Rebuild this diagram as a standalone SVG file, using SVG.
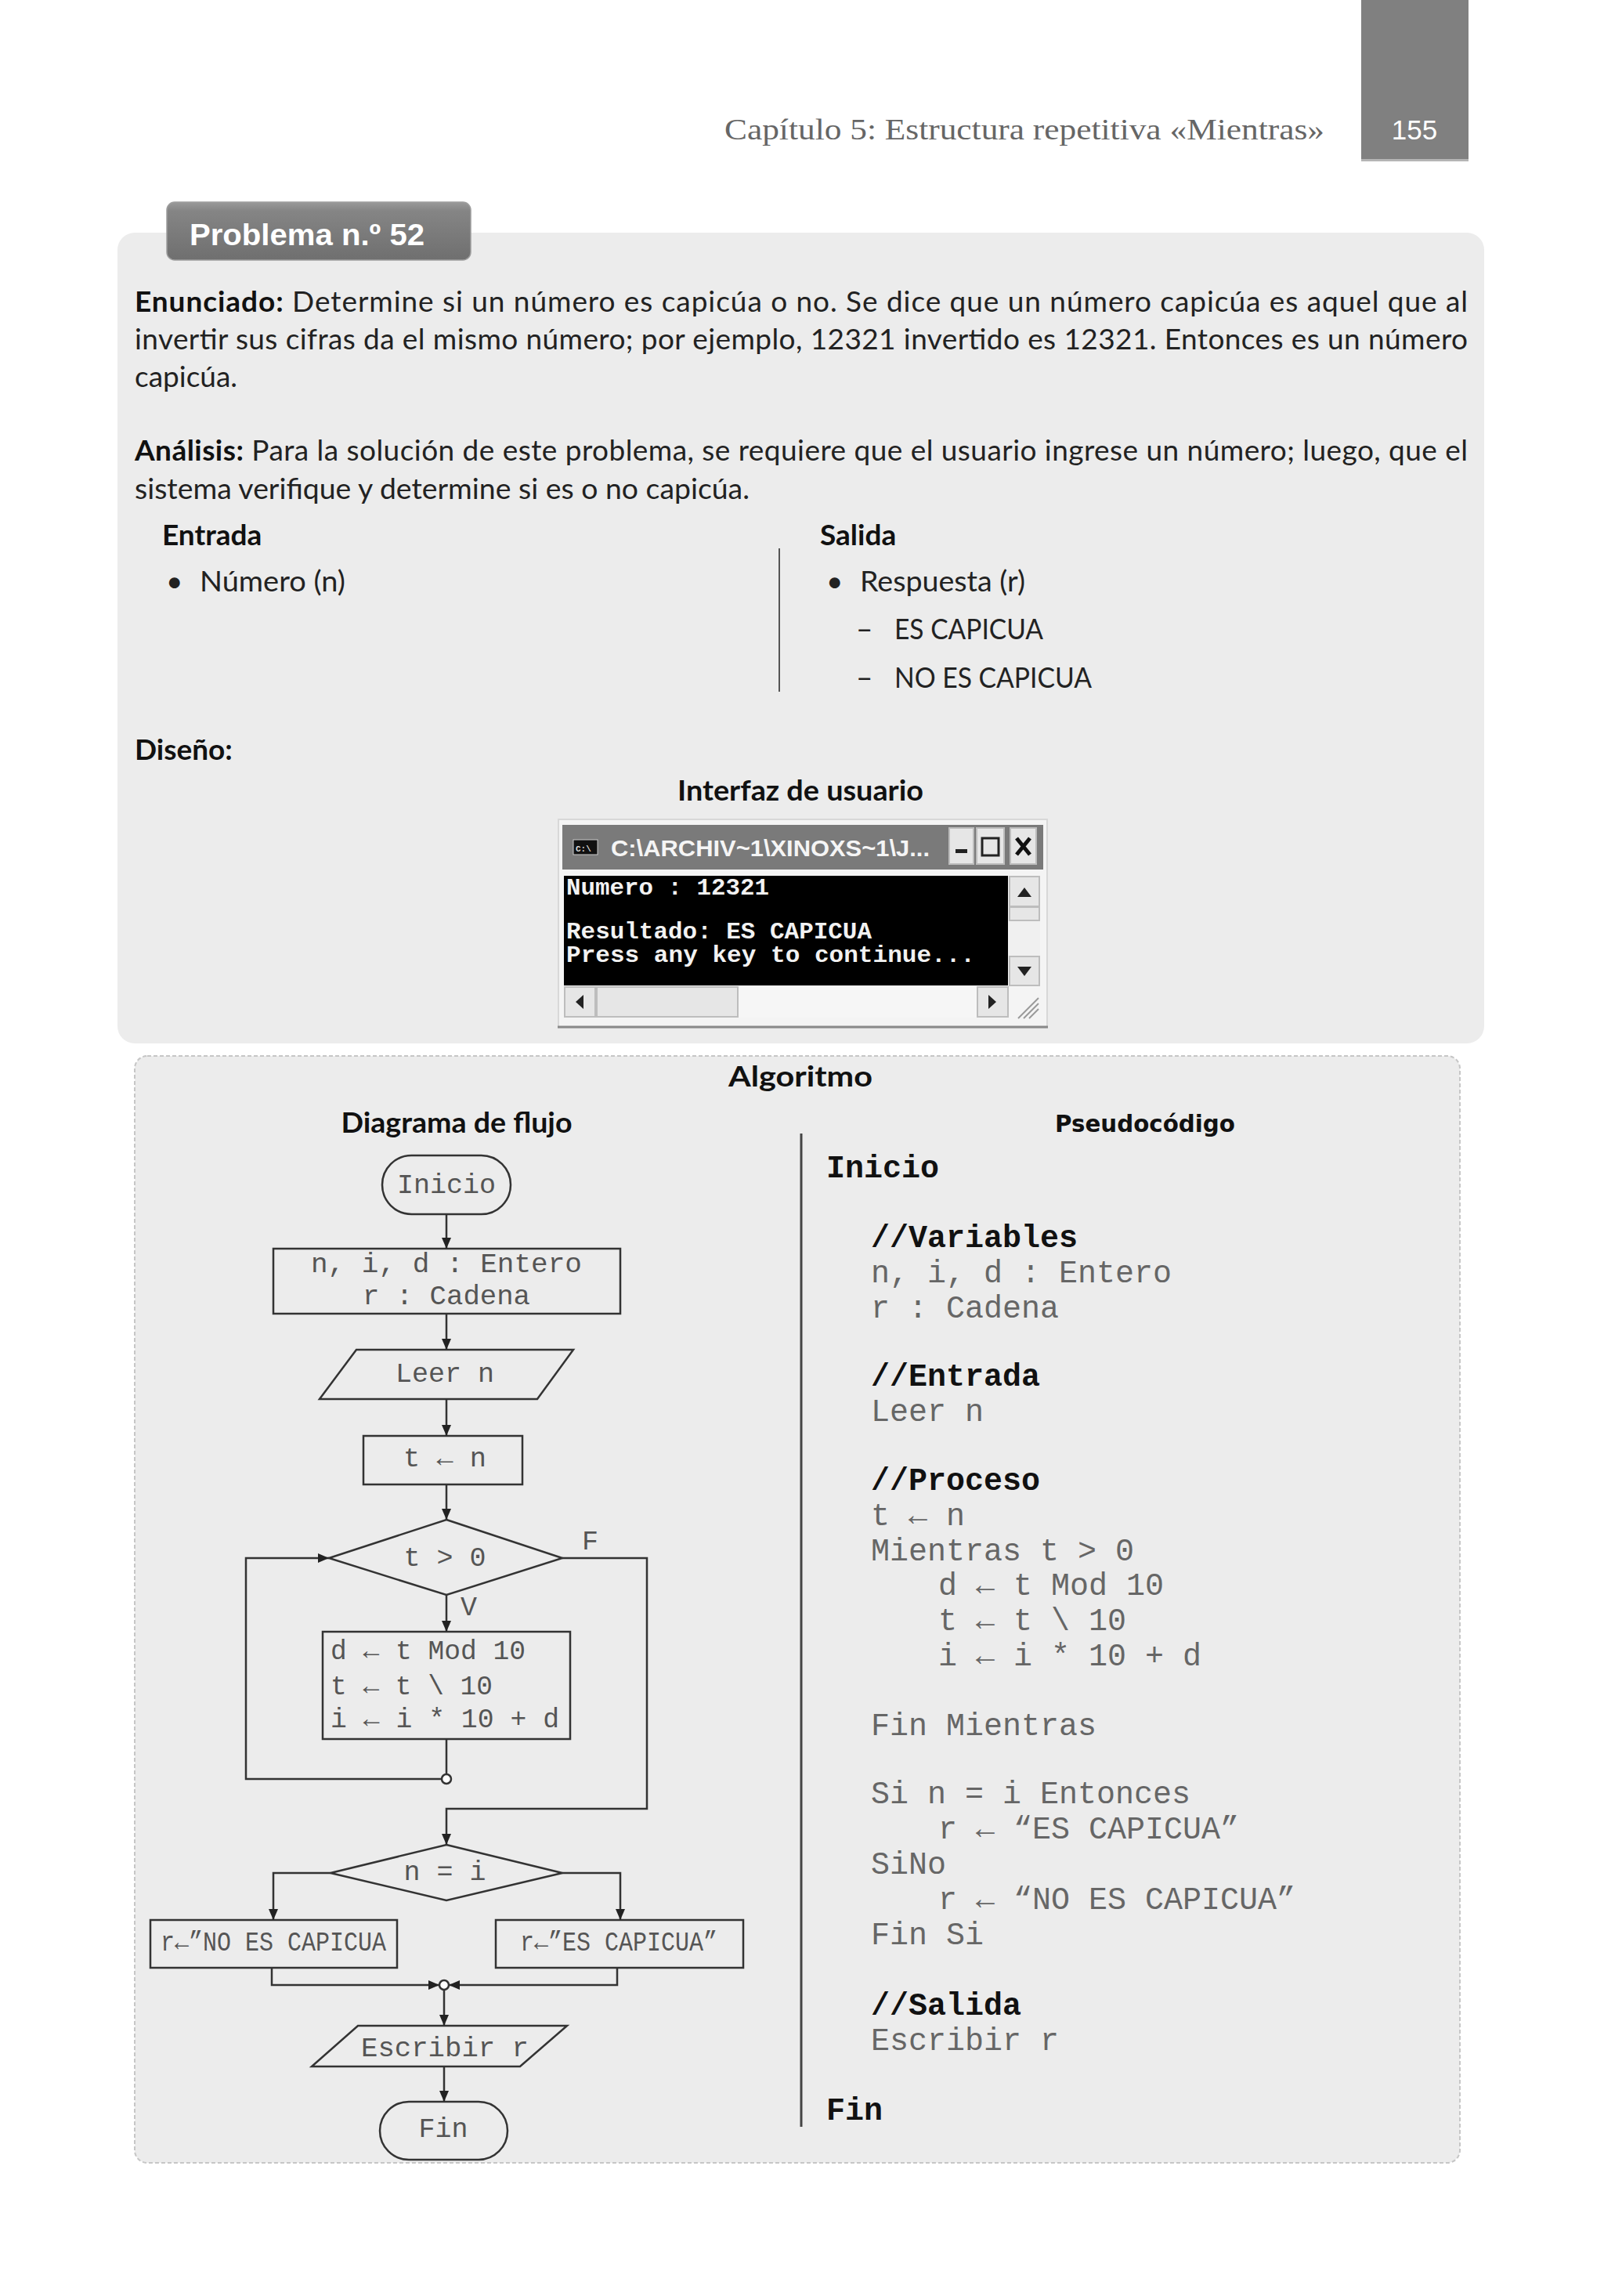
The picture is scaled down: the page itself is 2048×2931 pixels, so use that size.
<svg xmlns="http://www.w3.org/2000/svg" width="2048" height="2931" viewBox="0 0 2048 2931">
<defs>
<style>
.body{font-family:Lato,"Open Sans","Liberation Sans",sans-serif;font-size:37px;fill:#222}
.bold{font-weight:bold;fill:#111}
.fc{font-family:"Liberation Mono","Courier New",monospace;font-size:35px;fill:#555}
.ps{font-family:"Liberation Mono","Courier New",monospace;font-size:40px;fill:#666}
.psb{font-family:"Liberation Mono","Courier New",monospace;font-size:40px;font-weight:bold;fill:#111}
.shape{fill:none;stroke:#333;stroke-width:2.5}
.conn{fill:none;stroke:#333;stroke-width:2.5}
.con{font-family:"Liberation Mono","Courier New",monospace;font-size:30px;font-weight:bold;fill:#f2f2f2}
.btn{fill:#e6e6e6;stroke:#bdbdbd;stroke-width:2}
</style>
<linearGradient id="tabg" x1="0" y1="0" x2="0" y2="1">
<stop offset="0" stop-color="#9a9a9a"/>
<stop offset="0.15" stop-color="#858585"/>
<stop offset="1" stop-color="#6f6f6f"/>
</linearGradient>
<marker id="ah" markerWidth="14" markerHeight="12" refX="14" refY="6" orient="auto" markerUnits="userSpaceOnUse">
<path d="M0,0 L14,6 L0,12 z" fill="#222"/>
</marker>
</defs>

<rect width="2048" height="2931" fill="#ffffff"/>

<!-- Header -->
<g id="header">
<rect x="1738" y="0" width="137" height="205" fill="#808080"/>
<rect x="1738" y="203" width="137" height="3" fill="#b5b5b5"/>
<text x="1806" y="178" text-anchor="middle" font-family="'Liberation Sans',Arial,sans-serif" font-size="35" fill="#ffffff">155</text>
<text x="925" y="178" font-family="'Liberation Serif','Times New Roman',serif" font-size="38" fill="#666" textLength="766" lengthAdjust="spacingAndGlyphs">Capítulo 5:  Estructura repetitiva «Mientras»</text>
</g>

<!-- Problem panel -->
<g id="problem-panel">
<rect x="150" y="297" width="1745" height="1035" rx="22" fill="#ececec"/>
<rect x="213" y="258" width="388" height="74" rx="10" fill="url(#tabg)" stroke="#9d9d9d" stroke-width="1.5"/>
<text x="242" y="313" font-family="'Liberation Sans',Arial,sans-serif" font-size="38" font-weight="bold" fill="#ffffff" textLength="300" lengthAdjust="spacingAndGlyphs">Problema n.º 52</text>

<text class="body" x="172" y="398" textLength="1702" lengthAdjust="spacing"><tspan class="bold">Enunciado:</tspan> Determine si un número es capicúa o no. Se dice que un número capicúa es aquel que al</text>
<text class="body" x="172" y="446" textLength="1702" lengthAdjust="spacing">invertir sus cifras da el mismo número; por ejemplo, 12321 invertido es 12321. Entonces es un número</text>
<text class="body" x="172" y="494">capicúa.</text>
<text class="body" x="172" y="588" textLength="1702" lengthAdjust="spacing"><tspan class="bold">Análisis:</tspan> Para la solución de este problema, se requiere que el usuario ingrese un número; luego, que el</text>
<text class="body" x="172" y="637" textLength="785" lengthAdjust="spacingAndGlyphs">sistema verifique y determine si es o no capicúa.</text>

<text class="body bold" x="207" y="696">Entrada</text>
<text class="body" x="212" y="755">•</text>
<text class="body" x="255" y="755" textLength="186" lengthAdjust="spacingAndGlyphs">Número (n)</text>
<line x1="995" y1="700" x2="995" y2="883" stroke="#555" stroke-width="2"/>
<text class="body bold" x="1047" y="696">Salida</text>
<text class="body" x="1055" y="755">•</text>
<text class="body" x="1098" y="755" textLength="211" lengthAdjust="spacingAndGlyphs">Respuesta (r)</text>
<text class="body" x="1093" y="816">–</text>
<text class="body" x="1142" y="816" textLength="190" lengthAdjust="spacingAndGlyphs">ES CAPICUA</text>
<text class="body" x="1093" y="878">–</text>
<text class="body" x="1142" y="878" textLength="252" lengthAdjust="spacingAndGlyphs">NO ES CAPICUA</text>

<text class="body bold" x="172" y="970" font-size="40">Diseño:</text>
<text class="body bold" x="1022" y="1022" text-anchor="middle" textLength="314" lengthAdjust="spacingAndGlyphs">Interfaz de usuario</text>
</g>

<!-- Console window -->
<g id="console">
<rect x="713" y="1046" width="624" height="266" fill="#f4f4f4" stroke="#d8d8d8" stroke-width="2"/>
<line x1="712" y1="1311" x2="1338" y2="1311" stroke="#8a8a8a" stroke-width="3"/>
<rect x="718" y="1053" width="614" height="57" fill="#7a7a7a"/>
<rect x="732" y="1072" width="31" height="19" fill="#111" stroke="#ccc" stroke-width="1"/>
<text x="735" y="1087" font-family="'Liberation Mono',monospace" font-size="11" font-weight="bold" fill="#ddd">C:\</text>
<text x="780" y="1093" font-family="'Liberation Sans',Arial,sans-serif" font-size="30" font-weight="bold" fill="#f5f5f5" textLength="407" lengthAdjust="spacingAndGlyphs">C:\ARCHIV~1\XINOXS~1\J...</text>
<rect class="btn" x="1212" y="1057" width="31" height="46"/>
<rect x="1220" y="1084" width="15" height="5" fill="#222"/>
<rect class="btn" x="1247" y="1057" width="35" height="46"/>
<rect x="1254" y="1070" width="21" height="22" fill="none" stroke="#222" stroke-width="3"/>
<rect class="btn" x="1290" y="1057" width="33" height="46"/>
<path d="M1298,1070 L1315,1091 M1315,1070 L1298,1091" stroke="#111" stroke-width="5"/>

<rect x="720" y="1118" width="567" height="140" fill="#000"/>
<text class="con" x="723" y="1142" textLength="259" lengthAdjust="spacingAndGlyphs">Numero : 12321</text>
<text class="con" x="723" y="1198" textLength="390" lengthAdjust="spacingAndGlyphs">Resultado: ES CAPICUA</text>
<text class="con" x="723" y="1228" textLength="522" lengthAdjust="spacingAndGlyphs">Press any key to continue...</text>

<rect x="1288" y="1118" width="40" height="140" fill="#f0f0f0"/>
<rect class="btn" x="1289" y="1119" width="38" height="38"/>
<path d="M1299,1145 L1308,1133 L1317,1145 z" fill="#222"/>
<rect class="btn" x="1289" y="1158" width="38" height="17"/>
<rect class="btn" x="1289" y="1221" width="38" height="37"/>
<path d="M1299,1234 L1317,1234 L1308,1246 z" fill="#222"/>

<rect x="720" y="1259" width="567" height="40" fill="#f6f6f6"/>
<rect class="btn" x="721" y="1260" width="39" height="38"/>
<path d="M745,1270 L735,1279 L745,1288 z" fill="#222"/>
<rect class="btn" x="762" y="1260" width="180" height="38"/>
<rect class="btn" x="1248" y="1260" width="39" height="38"/>
<path d="M1262,1270 L1272,1279 L1262,1288 z" fill="#222"/>
<path d="M1300,1300 L1326,1274 M1307,1300 L1326,1281 M1314,1300 L1326,1288" stroke="#9a9a9a" stroke-width="2"/>
</g>

<!-- Algorithm panel -->
<g id="algorithm-panel">
<rect x="172" y="1348" width="1692" height="1413" rx="16" fill="#ececec" stroke="#c6c6c6" stroke-width="2" stroke-dasharray="5 3"/>
<text class="body bold" x="1022" y="1387" text-anchor="middle" font-size="42" textLength="184" lengthAdjust="spacingAndGlyphs">Algoritmo</text>
<text class="body bold" x="583" y="1446" text-anchor="middle" textLength="295" lengthAdjust="spacingAndGlyphs">Diagrama de flujo</text>
<text class="bold" x="1462" y="1445" text-anchor="middle" font-family="'DejaVu Sans',Verdana,sans-serif" font-size="31" textLength="230" lengthAdjust="spacingAndGlyphs">Pseudocódigo</text>
<line x1="1023" y1="1447" x2="1023" y2="2715" stroke="#444" stroke-width="3"/>
</g>

<!-- Flowchart nodes -->
<g id="n-inicio">
<rect class="shape" x="488" y="1475" width="164" height="75" rx="37.5"/>
<text class="fc" x="570" y="1523" text-anchor="middle">Inicio</text>
</g>
<g id="n-decl">
<rect class="shape" x="349" y="1594" width="443" height="83"/>
<text class="fc" x="570" y="1624" text-anchor="middle" font-size="36" textLength="346" lengthAdjust="spacingAndGlyphs">n, i, d : Entero</text>
<text class="fc" x="570" y="1665" text-anchor="middle" font-size="36" textLength="214" lengthAdjust="spacingAndGlyphs">r : Cadena</text>
</g>
<g id="n-leer">
<polygon class="shape" points="455,1723 732,1723 686,1786 408,1786"/>
<text class="fc" x="568" y="1764" text-anchor="middle">Leer n</text>
</g>
<g id="n-tn">
<rect class="shape" x="464" y="1833" width="203" height="62"/>
<text class="fc" x="568" y="1872" text-anchor="middle" textLength="106" lengthAdjust="spacingAndGlyphs">t ← n</text>
</g>
<g id="n-cond1">
<polygon class="shape" points="570,1940 718,1989 570,2036 420,1989"/>
<text class="fc" x="568" y="1999" text-anchor="middle">t &gt; 0</text>
</g>
<g id="n-body">
<rect class="shape" x="412" y="2083" width="316" height="137"/>
<text class="fc" x="422" y="2118" textLength="249" lengthAdjust="spacingAndGlyphs">d ← t Mod 10</text>
<text class="fc" x="422" y="2163" textLength="207" lengthAdjust="spacingAndGlyphs">t ← t \ 10</text>
<text class="fc" x="422" y="2205" textLength="292" lengthAdjust="spacingAndGlyphs">i ← i * 10 + d</text>
</g>
<g id="n-cond2">
<polygon class="shape" points="570,2355 718,2391 570,2426 422,2391"/>
<text class="fc" x="568" y="2400" text-anchor="middle">n = i</text>
</g>
<g id="n-no">
<rect class="shape" x="192" y="2451" width="315" height="61"/>
<text class="fc" x="205" y="2490" font-size="32" textLength="288" lengthAdjust="spacingAndGlyphs">r←”NO ES CAPICUA</text>
</g>
<g id="n-si">
<rect class="shape" x="633" y="2451" width="316" height="61"/>
<text class="fc" x="664" y="2490" font-size="32" textLength="252" lengthAdjust="spacingAndGlyphs">r←”ES CAPICUA”</text>
</g>
<g id="n-escribir">
<polygon class="shape" points="457,2586 724,2586 664,2638 398,2638"/>
<text class="fc" x="461" y="2625" textLength="214" lengthAdjust="spacingAndGlyphs">Escribir r</text>
</g>
<g id="n-fin">
<rect class="shape" x="485" y="2683" width="163" height="74" rx="37"/>
<text class="fc" x="566" y="2728" text-anchor="middle">Fin</text>
</g>

<!-- Connectors -->
<g id="connectors">
<line class="conn" x1="570" y1="1550" x2="570" y2="1594" marker-end="url(#ah)"/>
<line class="conn" x1="570" y1="1677" x2="570" y2="1723" marker-end="url(#ah)"/>
<line class="conn" x1="570" y1="1786" x2="570" y2="1833" marker-end="url(#ah)"/>
<line class="conn" x1="570" y1="1895" x2="570" y2="1940" marker-end="url(#ah)"/>
<line class="conn" x1="570" y1="2036" x2="570" y2="2083" marker-end="url(#ah)"/>
<line class="conn" x1="570" y1="2220" x2="570" y2="2265"/>
<circle cx="570" cy="2271" r="6" fill="#fff" stroke="#333" stroke-width="2.5"/>
<polyline class="conn" points="564,2271 314,2271 314,1989 420,1989" marker-end="url(#ah)"/>
<polyline class="conn" points="718,1989 826,1989 826,2309 570,2309 570,2355" marker-end="url(#ah)"/>
<polyline class="conn" points="422,2391 349,2391 349,2451" marker-end="url(#ah)"/>
<polyline class="conn" points="718,2391 792,2391 792,2451" marker-end="url(#ah)"/>
<polyline class="conn" points="347,2512 347,2534 561,2534" marker-end="url(#ah)"/>
<polyline class="conn" points="788,2512 788,2534 573,2534" marker-end="url(#ah)"/>
<circle cx="567" cy="2534" r="6" fill="#fff" stroke="#333" stroke-width="2.5"/>
<line class="conn" x1="567" y1="2540" x2="567" y2="2586" marker-end="url(#ah)"/>
<line class="conn" x1="567" y1="2638" x2="567" y2="2683" marker-end="url(#ah)"/>
<text class="fc" x="743" y="1978" font-size="32">F</text>
<text class="fc" x="588" y="2062" font-size="32">V</text>
</g>

<!-- Pseudocode -->
<g id="pseudocode">
<text class="psb" x="1055" y="1503">Inicio</text>
<text class="psb" x="1112" y="1592">//Variables</text>
<text class="ps" x="1112" y="1637">n, i, d : Entero</text>
<text class="ps" x="1112" y="1682">r : Cadena</text>
<text class="psb" x="1112" y="1769">//Entrada</text>
<text class="ps" x="1112" y="1814">Leer n</text>
<text class="psb" x="1112" y="1902">//Proceso</text>
<text class="ps" x="1112" y="1947" textLength="120" lengthAdjust="spacingAndGlyphs">t ← n</text>
<text class="ps" x="1112" y="1992">Mientras t &gt; 0</text>
<text class="ps" x="1198" y="2036" textLength="288" lengthAdjust="spacingAndGlyphs">d ← t Mod 10</text>
<text class="ps" x="1198" y="2081" textLength="240" lengthAdjust="spacingAndGlyphs">t ← t \ 10</text>
<text class="ps" x="1198" y="2126" textLength="336" lengthAdjust="spacingAndGlyphs">i ← i * 10 + d</text>
<text class="ps" x="1112" y="2215">Fin Mientras</text>
<text class="ps" x="1112" y="2302">Si n = i Entonces</text>
<text class="ps" x="1198" y="2347" textLength="384" lengthAdjust="spacingAndGlyphs">r ← “ES CAPICUA”</text>
<text class="ps" x="1112" y="2392">SiNo</text>
<text class="ps" x="1198" y="2437" textLength="456" lengthAdjust="spacingAndGlyphs">r ← “NO ES CAPICUA”</text>
<text class="ps" x="1112" y="2482">Fin Si</text>
<text class="psb" x="1112" y="2572">//Salida</text>
<text class="ps" x="1112" y="2617">Escribir r</text>
<text class="psb" x="1055" y="2706">Fin</text>
</g>
</svg>
